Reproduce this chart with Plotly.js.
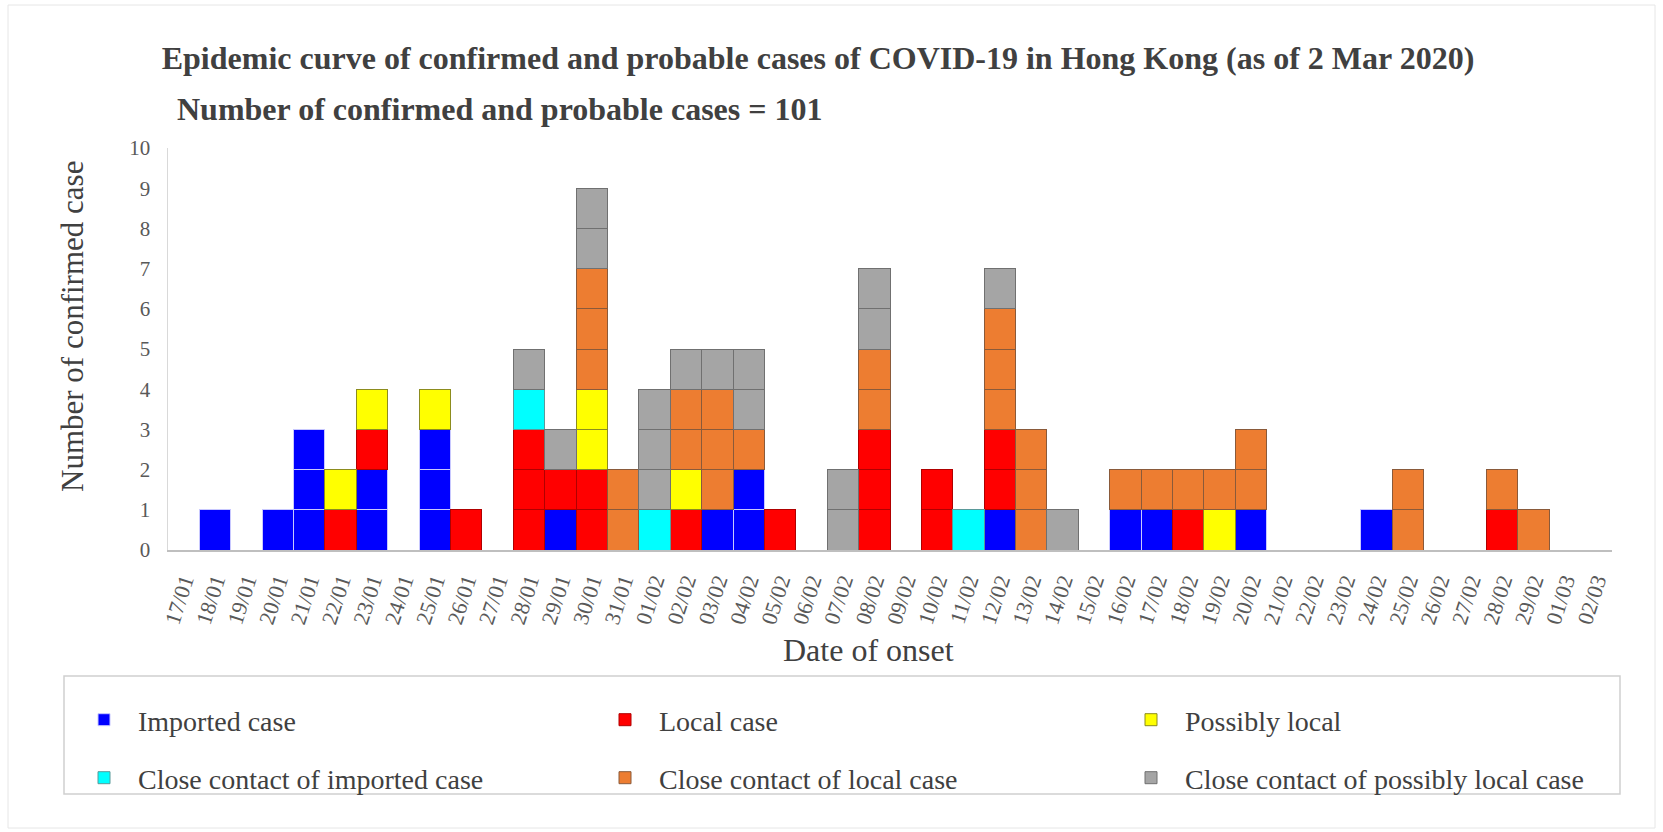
<!DOCTYPE html>
<html>
<head>
<meta charset="utf-8">
<script src="https://cdn.plot.ly/plotly-3.0.1.min.js"></script>
<style>html,body{margin:0;padding:0;background:#fff;}#chart{width:1663px;height:832px;}</style>
</head>
<body>
<div id="chart"></div>
<script>
// Dates of onset (categories)
var dates = ["17/01","18/01","19/01","20/01","21/01","22/01","23/01","24/01","25/01","26/01","27/01","28/01","29/01","30/01","31/01",
"01/02","02/02","03/02","04/02","05/02","06/02","07/02","08/02","09/02","10/02","11/02","12/02","13/02","14/02","15/02",
"16/02","17/02","18/02","19/02","20/02","21/02","22/02","23/02","24/02","25/02","26/02","27/02","28/02","29/02","01/03","02/03"];

// Cases per date for each classification
var importedCase   = [0,1,0,1,3,0,2,0,3,0,0,0,1,0,0, 0,0,1,2,0,0,0,0,0,0,0,1,0,0,0, 1,1,0,0,1,0,0,0,1,0,0,0,0,0,0,0];
var localCase      = [0,0,0,0,0,1,1,0,0,1,0,3,1,2,0, 0,1,0,0,1,0,0,3,0,2,0,2,0,0,0, 0,0,1,0,0,0,0,0,0,0,0,0,1,0,0,0];
var possiblyLocal  = [0,0,0,0,0,1,1,0,1,0,0,0,0,2,0, 0,1,0,0,0,0,0,0,0,0,0,0,0,0,0, 0,0,0,1,0,0,0,0,0,0,0,0,0,0,0,0];
var contactImported= [0,0,0,0,0,0,0,0,0,0,0,1,0,0,0, 1,0,0,0,0,0,0,0,0,0,1,0,0,0,0, 0,0,0,0,0,0,0,0,0,0,0,0,0,0,0,0];
var contactLocal   = [0,0,0,0,0,0,0,0,0,0,0,0,0,3,2, 0,2,3,1,0,0,0,2,0,0,0,3,3,0,0, 1,1,1,1,2,0,0,0,0,2,0,0,1,1,0,0];
var contactPossibly= [0,0,0,0,0,0,0,0,0,0,0,1,1,2,0, 3,1,1,2,0,0,2,2,0,0,0,1,0,1,0, 0,0,0,0,0,0,0,0,0,0,0,0,0,0,0,0];

var seriesNames = ["Imported case","Local case","Possibly local",
                   "Close contact of imported case","Close contact of local case","Close contact of possibly local case"];
var seriesValues = [importedCase, localCase, possiblyLocal, contactImported, contactLocal, contactPossibly];
var seriesColors = ["#0000ff","#ff0000","#ffff00","#00ffff","#ed7d31","#a5a5a5"];
var seriesLines  = ["#c8c8ff","#b00000","#8c8c1e","#5a9a9a","#8a5a3a","#707070"];

var FONT = "Liberation Serif, Times New Roman, serif";
var W = 1663, H = 832, L = 168, R = 51, T = 148, B = 282;
var pw = W - L - R, ph = H - T - B;
function px2x(p){ return (p - L) / pw; }
function px2y(p){ return (H - B - p) / ph; }

// legend slot for each series: 2 rows x 3 columns
var legendLeft = [84, 605, 1131, 84, 605, 1131];
var legendMidY = [720, 720, 720, 778, 778, 778];

var traces = [];
seriesValues.forEach(function(vals, s) {
  var maxV = Math.max.apply(null, vals);
  for (var k = 1; k <= maxV; k++) {
    traces.push({
      type: "bar",
      x: dates,
      y: vals.map(function(v){ return v >= k ? 1 : null; }),
      name: "\u00a0\u00a0" + seriesNames[s],
      legendgroup: seriesNames[s],
      showlegend: k === 1,
      legend: s === 0 ? "legend" : "legend" + (s + 1),
      marker: {color: seriesColors[s], line: {color: seriesLines[s], width: 1}},
      hovertemplate: "%{x}<extra>" + seriesNames[s] + "</extra>"
    });
  }
});

var layout = {
  width: W, height: H,
  margin: {l: L, r: R, t: T, b: B, autoexpand: false},
  paper_bgcolor: "#ffffff", plot_bgcolor: "#ffffff",
  barmode: "stack", bargap: 0,
  title: {
    text: "<b>Epidemic curve of confirmed and probable cases of COVID-19 in Hong Kong (as of 2 Mar 2020)</b>",
    font: {family: FONT, size: 32, color: "#404040"},
    x: 818 / W, xanchor: "center", xref: "container",
    y: 1 - 58 / H, yanchor: "middle", yref: "container"
  },
  xaxis: {
    type: "category",
    tickangle: -72,
    tickfont: {family: FONT, size: 22, color: "#595959"},
    showline: true, linecolor: "#bfbfbf", linewidth: 1.5,
    ticks: "", showgrid: false, zeroline: false,
    ticklabelstandoff: 8
  },
  yaxis: {
    range: [0, 10], dtick: 1,
    tickfont: {family: FONT, size: 21, color: "#595959"},
    showline: true, linecolor: "#d9d9d9", linewidth: 1.5,
    ticks: "", showgrid: false, zeroline: false,
    ticklabelstandoff: 12
  },
  annotations: [
    {text: "<b>Number of confirmed and probable cases = 101</b>",
     xref: "paper", yref: "paper", x: px2x(175), y: px2y(109),
     xanchor: "left", yanchor: "middle", showarrow: false,
     font: {family: FONT, size: 32, color: "#404040"}},
    {text: "Date of onset",
     xref: "paper", yref: "paper", x: px2x(868), y: px2y(650),
     xanchor: "center", yanchor: "middle", showarrow: false,
     font: {family: FONT, size: 32, color: "#404040"}},
    {text: "Number of confirmed case", textangle: -90,
     xref: "paper", yref: "paper", x: px2x(72), y: px2y(327),
     xanchor: "center", yanchor: "middle", showarrow: false,
     font: {family: FONT, size: 31, color: "#404040"}}
  ],
  shapes: [
    {type: "rect", xref: "paper", yref: "paper",
     x0: px2x(64), x1: px2x(1620), y0: px2y(794), y1: px2y(676),
     line: {color: "#d0d0d0", width: 1.5}, fillcolor: "rgba(0,0,0,0)", layer: "below"},
    {type: "rect", xref: "paper", yref: "paper",
     x0: px2x(8), x1: px2x(1655), y0: px2y(828), y1: px2y(5),
     line: {color: "#e6e6e6", width: 1}, fillcolor: "rgba(0,0,0,0)", layer: "below"}
  ],
  showlegend: true
};

for (var i = 0; i < 6; i++) {
  var key = i === 0 ? "legend" : "legend" + (i + 1);
  layout[key] = {
    orientation: "h", x: px2x(legendLeft[i]), xanchor: "left", xref: "paper",
    y: px2y(legendMidY[i]), yanchor: "middle", yref: "paper",
    font: {family: FONT, size: 28, color: "#404040"},
    bgcolor: "rgba(0,0,0,0)", borderwidth: 0
  };
}

Plotly.newPlot("chart", traces, layout, {displayModeBar: false, staticPlot: true});
</script>
</body>
</html>
